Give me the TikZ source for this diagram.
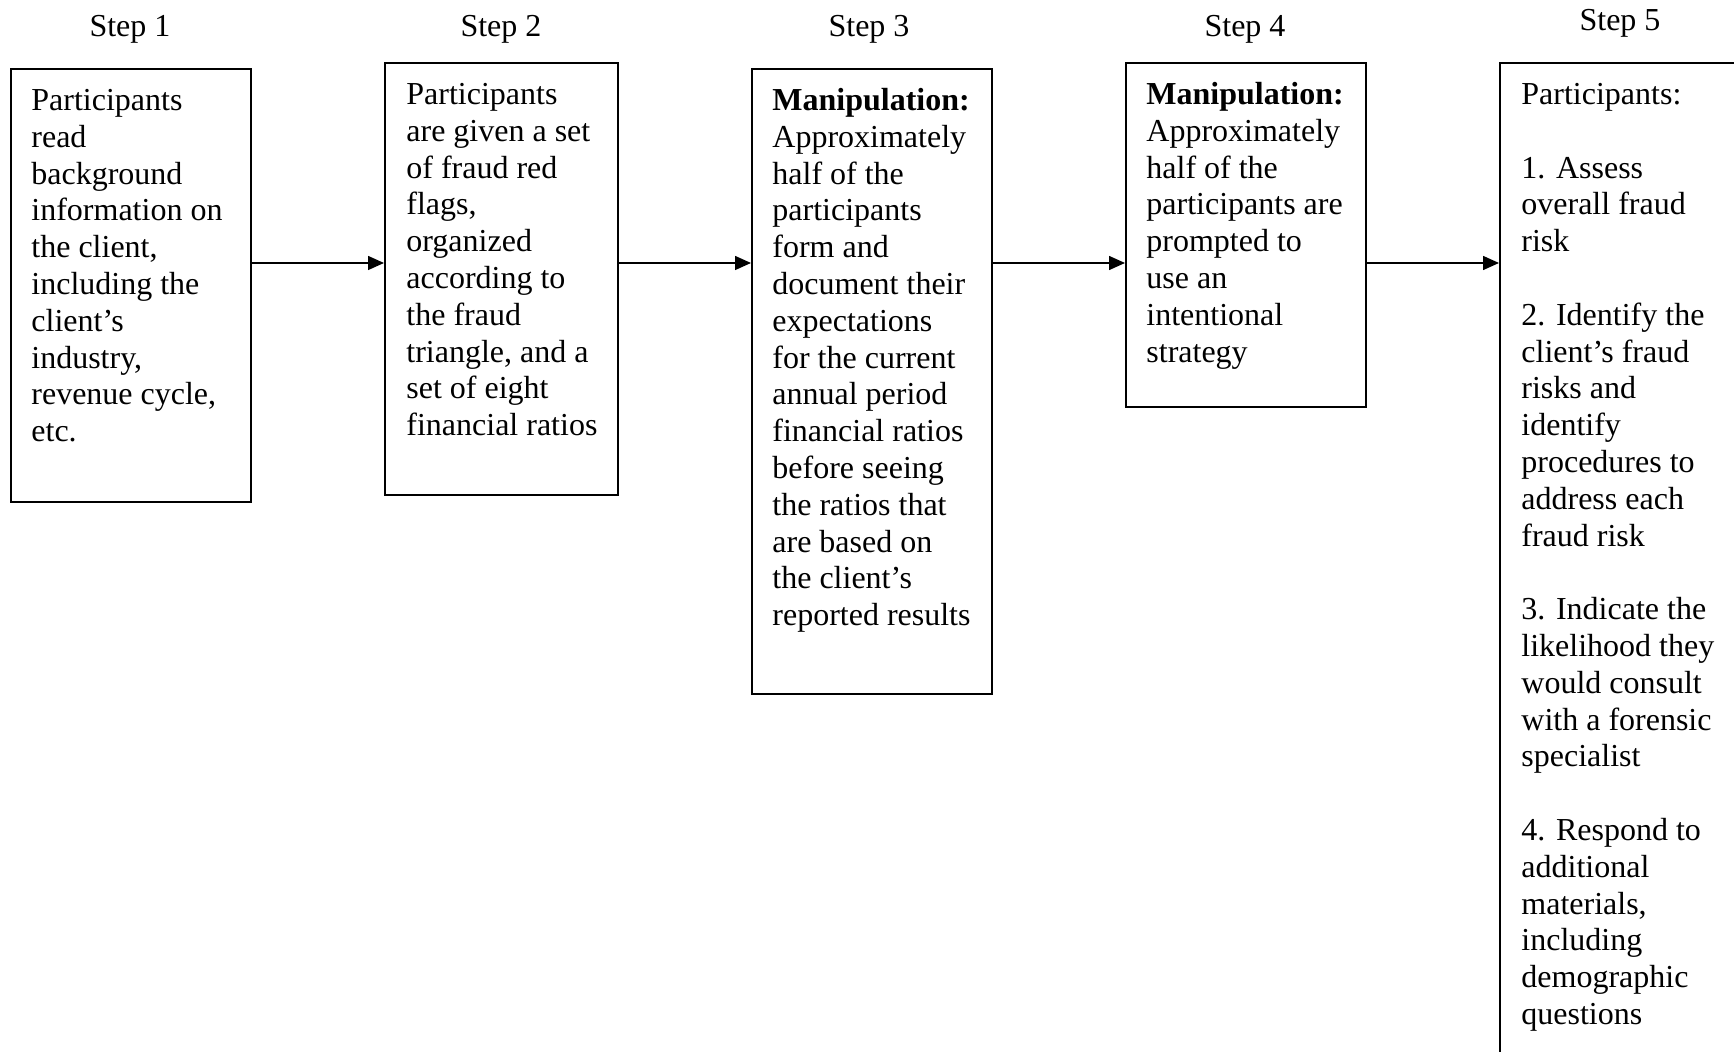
\documentclass[tikz,border=0pt]{standalone}
\usepackage{fontspec}
\setmainfont{Liberation Serif}
\usetikzlibrary{arrows.meta}
\tikzset{
  stepbox/.style={draw=black, line width=1pt, rectangle, inner sep=0pt},
  boxtext/.style={anchor=north west, inner sep=0pt, align=left,
    font=\fontsize{16}{18.4}\selectfont},
  steplabel/.style={anchor=base, inner sep=0pt, font=\fontsize{16}{18.4}\selectfont},
  flow/.style={line width=0.75pt, -{Triangle[length=8pt,width=7pt]}}
}
\begin{document}
\begin{tikzpicture}[x=0.5pt,y=-0.5pt]
\useasboundingbox (0,0) rectangle (1734,1052);
% boxes
\node[stepbox, minimum width=120pt, minimum height=216.5pt] (b1) at (131,285.5) {};
\node[stepbox, minimum width=116.5pt, minimum height=216pt] (b2) at (501.5,279) {};
\node[stepbox, minimum width=120pt, minimum height=312.5pt] (b3) at (872,381.5) {};
\node[stepbox, minimum width=120pt, minimum height=172pt] (b4) at (1246,235) {};
\node[stepbox, minimum width=130pt, minimum height=508.5pt] (b5) at (1630,571.5) {};
% labels
\node[steplabel] (s1) at (130,37) {Step 1};
\node[steplabel] (s2) at (501,37) {Step 2};
\node[steplabel] (s3) at (869,37) {Step 3};
\node[steplabel] (s4) at (1245,37) {Step 4};
\node[steplabel] (s5) at (1620,31) {Step 5};
% texts
\node[boxtext] (t1) at (31,84.3) {\strut Participants\\read\\background\\information on\\the client,\\including the\\client’s\\industry,\\revenue cycle,\\etc.};
\node[boxtext] (t2) at (406,78.3) {\strut Participants\\are given a set\\of fraud red\\flags,\\organized\\according to\\the fraud\\triangle, and a\\set of eight\\financial ratios};
\node[boxtext] (t3) at (772,84.3) {\strut\textbf{Manipulation:}\\Approximately\\half of the\\participants\\form and\\document their\\expectations\\for the current\\annual period\\financial ratios\\before seeing\\the ratios that\\are based on\\the client’s\\reported results};
\node[boxtext] (t4) at (1146,78.3) {\strut\textbf{Manipulation:}\\Approximately\\half of the\\participants are\\prompted to\\use an\\intentional\\strategy};
\node[boxtext] (t5) at (1521,78.3) {\strut Participants:\\[18.4pt]1. Assess\\overall fraud\\risk\\[18.4pt]2. Identify the\\client’s fraud\\risks and\\identify\\procedures to\\address each\\fraud risk\\[18.4pt]3. Indicate the\\likelihood they\\would consult\\with a forensic\\specialist\\[18.4pt]4. Respond to\\additional\\materials,\\including\\demographic\\questions};
% connectors
\coordinate (ay) at (0,263);
\draw[flow] (b1.east |- ay) -- (b2.west |- ay);
\draw[flow] (b2.east |- ay) -- (b3.west |- ay);
\draw[flow] (b3.east |- ay) -- (b4.west |- ay);
\draw[flow] (b4.east |- ay) -- (b5.west |- ay);
\end{tikzpicture}
\end{document}
